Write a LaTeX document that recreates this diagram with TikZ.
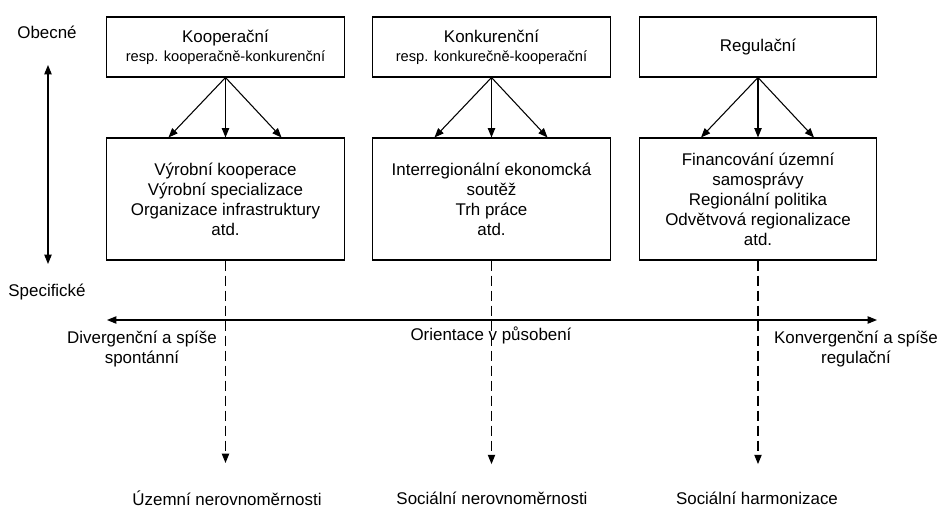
\documentclass[tikz,border=0pt]{standalone}
\usepackage{fontspec}
\setmainfont{Liberation Sans}
\usetikzlibrary{arrows.meta, positioning, calc}

\begin{document}
\begin{tikzpicture}[x=0.75pt, y=-0.75pt,
    topbox/.style={draw, line width=0.8pt, minimum width=178pt, minimum height=45pt, align=center, inner sep=2pt, font=\fontsize{12.7}{15}\selectfont},
    lowbox/.style={draw, line width=0.8pt, minimum width=178pt, minimum height=91.5pt, align=center, inner sep=2pt, font=\fontsize{12.7}{15}\selectfont},
    lbl/.style={align=center, inner sep=1pt, font=\fontsize{12.7}{15}\selectfont},
    tip/.style={-{Triangle[length=7pt, width=5.5pt]}, line width=0.8pt},
    bothtip/.style={{Triangle[length=7pt, width=5.5pt]}-{Triangle[length=7pt, width=5.5pt]}, line width=0.8pt},
    dasharrow/.style={tip, dash pattern=on 7.5pt off 3.75pt}]
    \useasboundingbox (0,0) rectangle (940,507);

    % Typy vazeb
    \node[topbox] (koop) at (225.5,47) {Kooperační\\[-1pt]{\fontsize{11}{13}\selectfont resp. kooperačně-konkurenční}};
    \node[topbox] (konk) at (491.5,47) {Konkurenční\\[-1pt]{\fontsize{11}{13}\selectfont resp. konkurečně-kooperační}};
    \node[topbox] (regu) at (758,47) {Regulační};

    % Oblasti
    \node[lowbox] (oblA) at (225.5,199) {Výrobní kooperace\\Výrobní specializace\\Organizace infrastruktury\\atd.};
    \node[lowbox] (oblB) at (491.5,199) {Interregionální ekonomcká\\soutěž\\Trh práce\\atd.};
    \node[lowbox] (oblC) at (758,199) {Financování územní\\samosprávy\\Regionální politika\\Odvětvová regionalizace\\atd.};

    % Sipky mezi bloky
    \foreach \a/\b in {koop/oblA, konk/oblB, regu/oblC} {
        \draw[tip] (\a.south) -- ($(\b.north)+(-57,0)$);
        \draw[tip] (\a.south) -- (\b.north);
        \draw[tip] (\a.south) -- ($(\b.north)+(56,0)$);
    }

    % Osa obecne - specificke
    \node[lbl] (obec) at (47,32) {Obecné};
    \node[lbl] (spec) at (47,292) {Specifické};
    \coordinate (osaT) at (48,65);
    \coordinate (osaB) at (48,264);
    \draw[bothtip] (osaT) -- (osaB);

    % Orientace v pusobeni
    \coordinate (orL) at (107,320);
    \coordinate (orR) at (877,320);
    \draw[bothtip] (orL) -- (orR);
    \node[lbl] (diverg) at (142,349) {Divergenční a spíše\\spontánní};
    \node[lbl] (orient) at (491,335) {Orientace v působení};
    \node[lbl] (konverg) at (856,349) {Konvergenční a spíše\\regulační};

    % Dusledky
    \node[lbl] (vysA) at (227,498) {Územní nerovnoměrnosti};
    \node[lbl] (vysB) at (492,498) {Sociální nerovnoměrnosti};
    \node[lbl] (vysC) at (757,498) {Sociální harmonizace};
    \foreach \o/\v in {oblA/vysA, oblB/vysB, oblC/vysC}
        \draw[dasharrow] (\o.south) -- ($(\o.south |- \v.north)+(0,-26)$);
\end{tikzpicture}
\end{document}
